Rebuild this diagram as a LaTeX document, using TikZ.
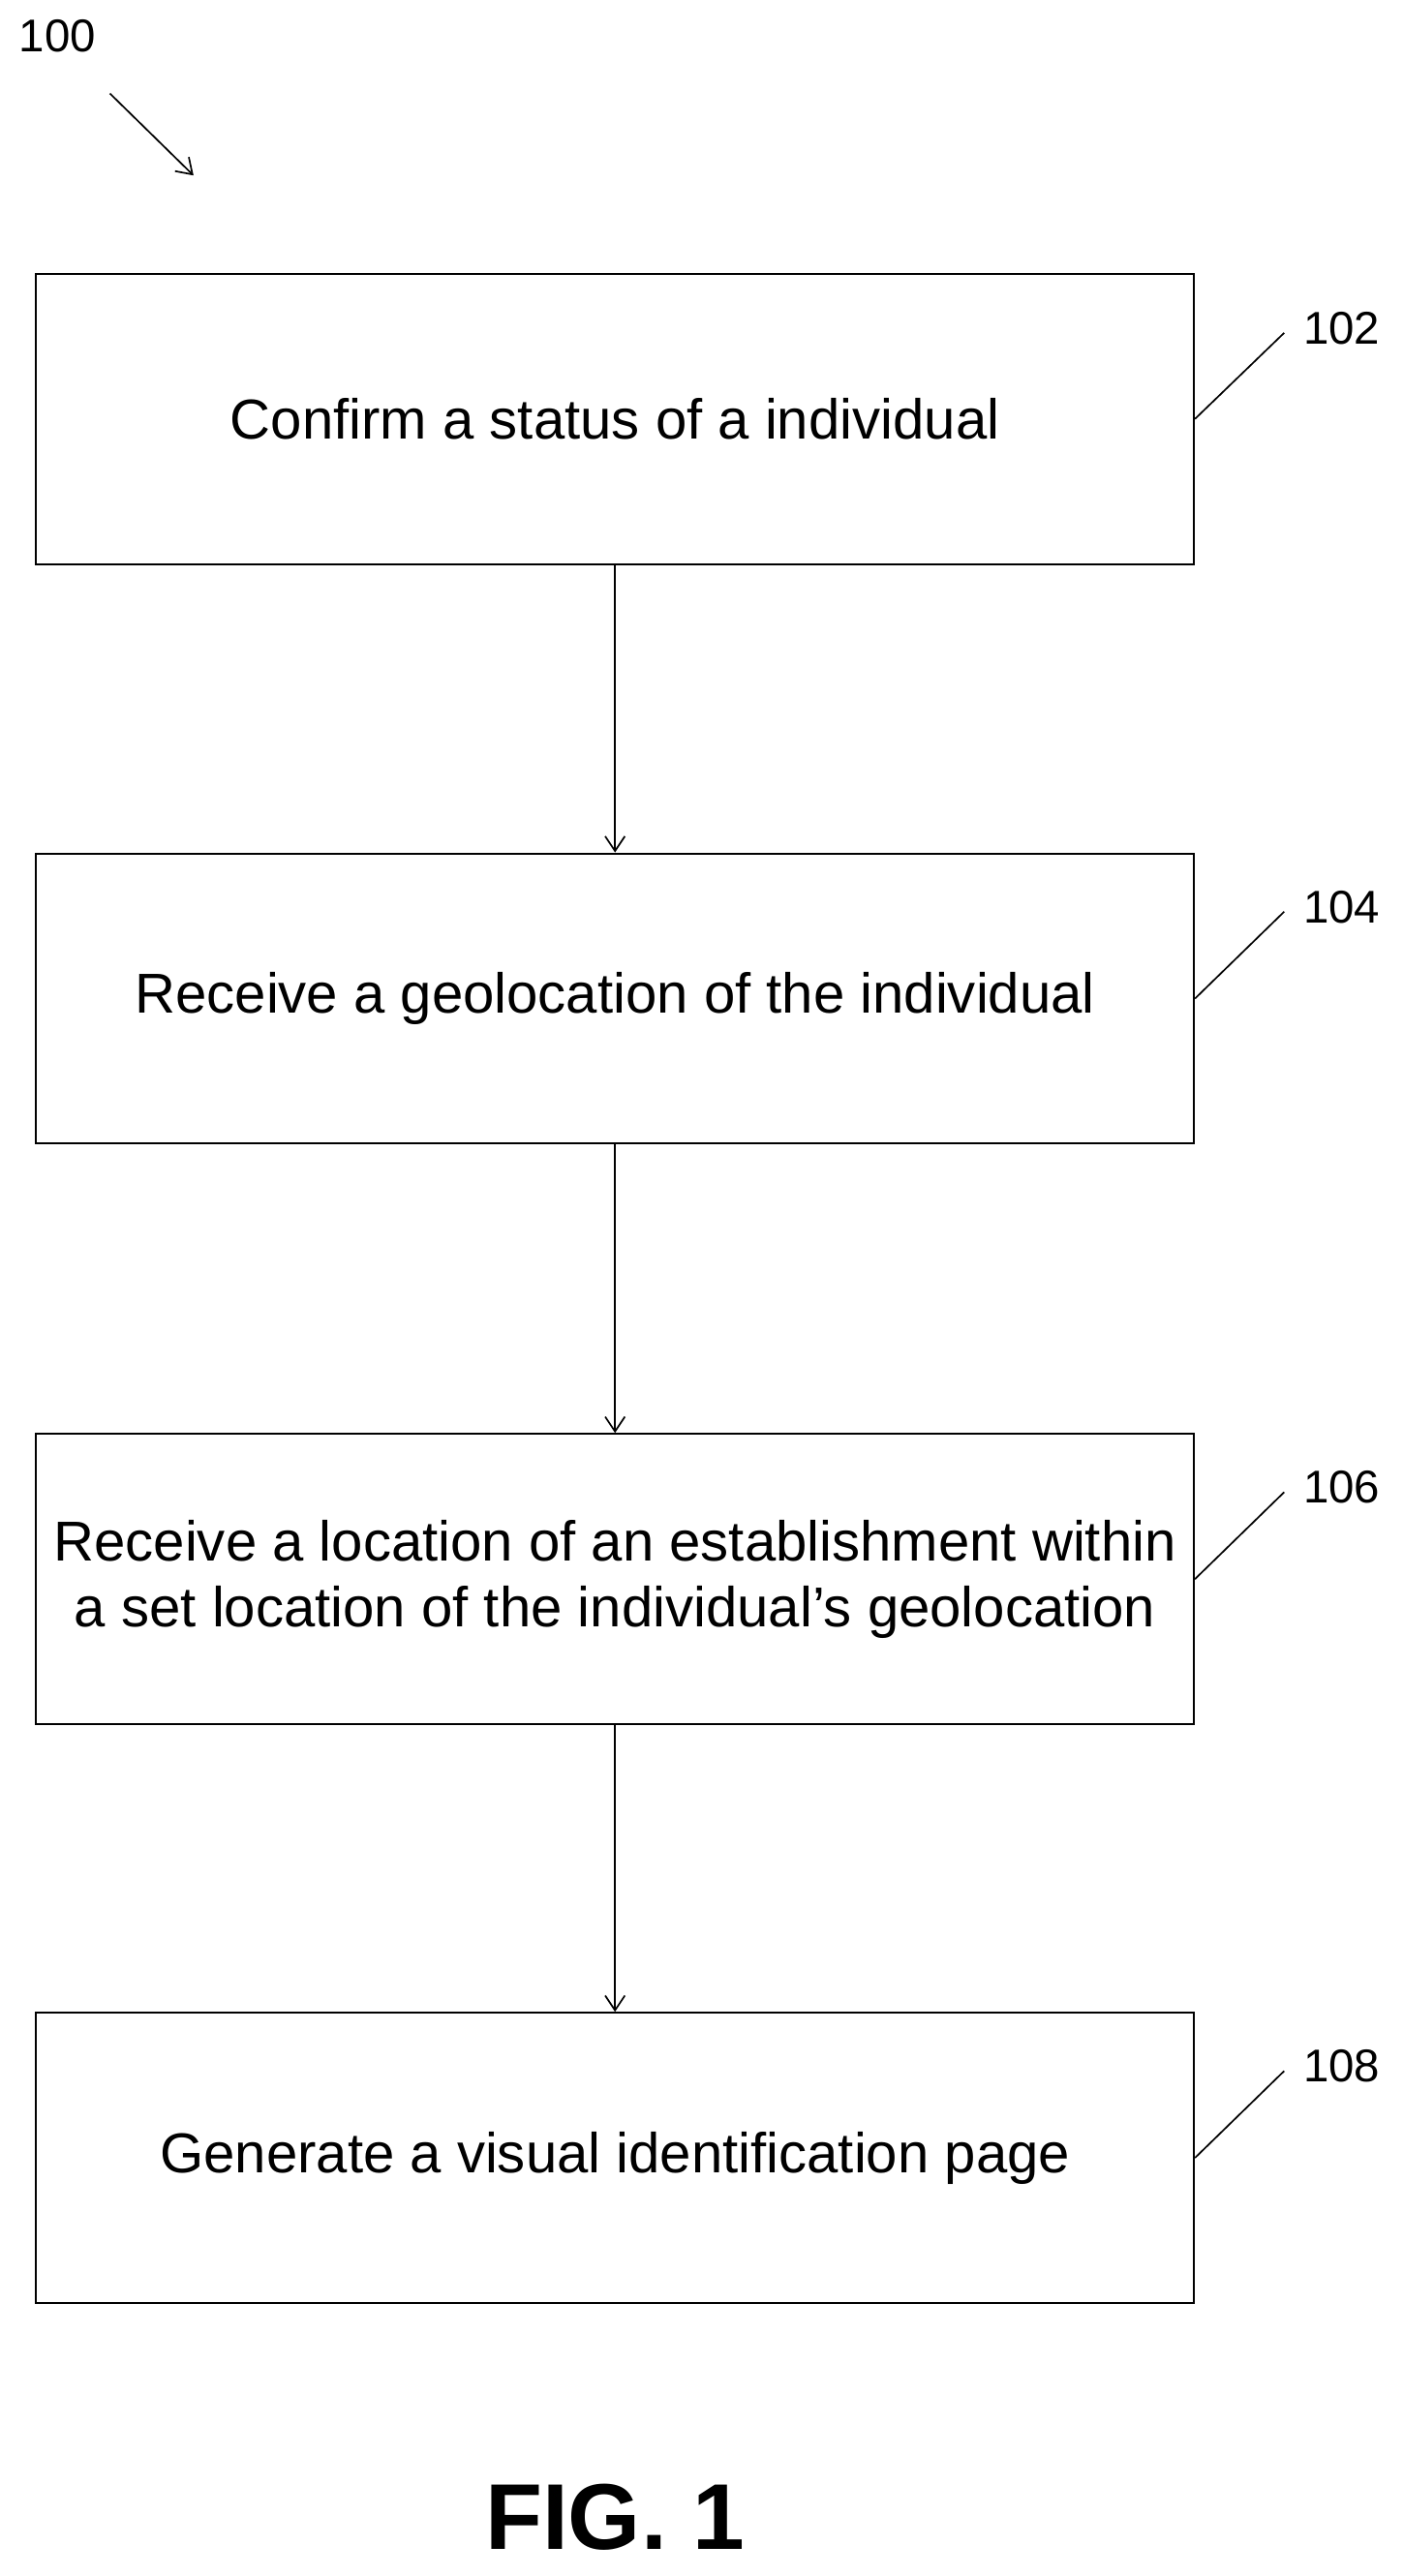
\documentclass[tikz,border=0pt]{standalone}
\usepackage{fontspec}
\setmainfont{Liberation Sans}
\usetikzlibrary{arrows.meta}
\begin{document}
\begin{tikzpicture}[x=1pt,y=-1pt,
  stepbox/.style={draw,line width=1.2pt,minimum width=706pt,minimum height=177pt,align=center,font=\fontsize{34.3}{40}\selectfont,inner sep=0pt},
  lbl/.style={font=\fontsize{28}{32}\selectfont},
  conn/.style={line width=1pt,-{Straight Barb[length=9pt,width=12pt]}}]
\useasboundingbox (0,0) rectangle (855,1571);
\node[stepbox] (b1) at (375,255.5) {Confirm a status of a individual};
\node[stepbox] (b2) at (375,609) {Receive a geolocation of the individual};
\node[stepbox] (b3) at (375,963) {Receive a location of an establishment within\\a set location of the individual’s geolocation};
\node[stepbox] (b4) at (375,1316) {Generate a visual identification page};
\draw[conn] (b1) -- (b2);
\draw[conn] (b2) -- (b3);
\draw[conn] (b3) -- (b4);
\foreach \b/\n/\y in {b1/102/200,b2/104/553,b3/106/907,b4/108/1260}{
  \node[lbl] (l\n) at (818,\y) {\n};
  \coordinate (c\n) at (783,\y+3);
  \draw[line width=1pt] (\b.east) -- (c\n);
}
\node[lbl] (l100) at (35,22) {100};
\coordinate (a0) at (67,57);
\coordinate (a1) at (118,107);
\draw[conn] (a0) -- (a1);
\node[font=\fontsize{57}{60}\selectfont\bfseries] (fig) at (375,1535) {FIG. 1};
\end{tikzpicture}
\end{document}
